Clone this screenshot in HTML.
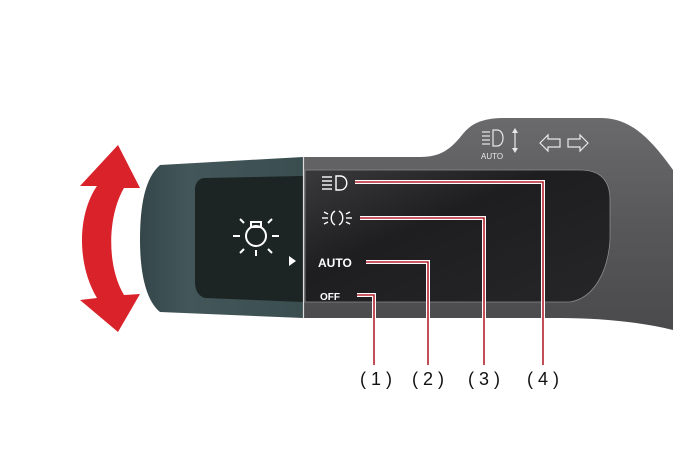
<!DOCTYPE html>
<html><head><style>
html,body{margin:0;padding:0;background:#fff;}
svg{display:block;}
text{font-family:"Liberation Sans",sans-serif;}
</style></head><body>
<svg width="673" height="472" viewBox="0 0 673 472" xmlns="http://www.w3.org/2000/svg">
<defs>
<linearGradient id="body" x1="0" y1="0" x2="0" y2="1">
<stop offset="0" stop-color="#6a6a6c"/><stop offset="0.5" stop-color="#58585a"/><stop offset="1" stop-color="#4a4a4c"/></linearGradient>
<linearGradient id="knob" x1="0" y1="0" x2="1" y2="0">
<stop offset="0" stop-color="#34464a"/><stop offset="0.3" stop-color="#43575a"/><stop offset="1" stop-color="#3a4e50"/></linearGradient>
<linearGradient id="panel" x1="0" y1="0" x2="1" y2="1">
<stop offset="0" stop-color="#3a3a3c"/><stop offset="0.4" stop-color="#1e1e20"/><stop offset="1" stop-color="#262628"/></linearGradient>
</defs>
<path d="M303,157 L420,157 C440,157 450,150 462,135 C472,122 485,118 505,118 L600,118 C625,118 645,130 673,170 L673,330 C640,322 600,318 560,318 L303,318 Z" fill="url(#body)"/>
<path d="M305,170 L580,170 C600,170 610,180 610,200 L610,240 C608,270 595,298 570,302 L305,302 Z" fill="url(#panel)" stroke="#8a8a8c" stroke-width="0.8"/>
<path d="M160,165 L303,157 L303,318 L160,312 C145,300 140,270 140,240 C140,205 145,178 160,165 Z" fill="url(#knob)"/>
<path d="M205,178 L303,176 L303,302 L205,298 C198,296 195,290 195,282 L195,190 C195,183 199,178 205,178 Z" fill="#1c2424"/>
<line x1="303.5" y1="157" x2="303.5" y2="318" stroke="#dcdcdc" stroke-width="1.2"/>
<g stroke="#fff" stroke-width="2" fill="none">
<circle cx="256" cy="236" r="10"/>
<rect x="251" y="222" width="10" height="5"/>
<line x1="233" y1="236" x2="240" y2="236"/><line x1="272" y1="236" x2="279" y2="236"/>
<line x1="240" y1="219" x2="244" y2="223"/><line x1="272" y1="219" x2="268" y2="223"/>
<line x1="240" y1="253" x2="244" y2="249"/><line x1="272" y1="253" x2="268" y2="249"/>
<line x1="256" y1="250" x2="256" y2="256"/>
</g>
<polygon points="289,256 296,261 289,266" fill="#fff"/>
<path d="M118,145 L140,188 L124,188 C108,215 106,265 124,295 L140,294 L118,332 L80,300 L97,298 C77,265 77,215 97,186 L80,186 Z" fill="#d9222a"/>
<g fill="#fff" font-weight="bold">
<text x="318" y="267" font-size="12">AUTO</text>
<text x="320" y="300" font-size="10">OFF</text>
</g>
<g stroke="#fff" stroke-width="1.4" fill="none">
<path d="M336,176 L340,176 C349,176 349,190 340,190 L336,190 Z"/>
<line x1="322" y1="177" x2="332" y2="177"/><line x1="322" y1="181" x2="332" y2="181"/><line x1="322" y1="185" x2="332" y2="185"/><line x1="322" y1="189" x2="332" y2="189"/>
<path d="M335,211 C330,214 330,222 335,225"/><path d="M339,211 C344,214 344,222 339,225"/>
<line x1="322" y1="218" x2="328" y2="218"/><line x1="346" y1="218" x2="352" y2="218"/>
<line x1="324" y1="212" x2="328" y2="214"/><line x1="324" y1="224" x2="328" y2="222"/>
<line x1="350" y1="212" x2="346" y2="214"/><line x1="350" y1="224" x2="346" y2="222"/>
</g>
<g stroke="#e8e8e8" stroke-width="1.2" fill="none">
<path d="M493,130 L497,130 C505,130 505,146 497,146 L493,146 Z"/>
<line x1="482" y1="132" x2="490" y2="132"/><line x1="482" y1="136" x2="490" y2="136"/><line x1="482" y1="140" x2="490" y2="140"/><line x1="482" y1="144" x2="490" y2="144"/>
<line x1="515" y1="131" x2="515" y2="150"/>
<path d="M540,143 L548,135 L548,139 L560,139 L560,147 L548,147 L548,151 Z"/>
<path d="M588,143 L580,135 L580,139 L568,139 L568,147 L580,147 L580,151 Z"/>
</g>
<polygon points="512,133 515,128 518,133" fill="#e8e8e8"/>
<polygon points="512,148 515,153 518,148" fill="#e8e8e8"/>
<text x="481" y="159" font-size="8" fill="#e8e8e8">AUTO</text>
<g fill="none">
<g stroke="#fff" stroke-width="4">
<path d="M355,182 L543,182 L543,365"/>
<path d="M360,218 L484,218 L484,365"/>
<path d="M366,262 L428,262 L428,365"/>
<path d="M357,295 L374,295 L374,365"/>
</g>
<g stroke="#b3222e" stroke-width="1.6">
<path d="M355,182 L543,182 L543,365"/>
<path d="M360,218 L484,218 L484,365"/>
<path d="M366,262 L428,262 L428,365"/>
<path d="M357,295 L374,295 L374,365"/>
</g>
</g>
<g font-size="18" fill="#111" text-anchor="middle">
<text x="376" y="385">( 1 )</text>
<text x="428" y="385">( 2 )</text>
<text x="484" y="385">( 3 )</text>
<text x="543" y="385">( 4 )</text>
</g>
</svg>
</body></html>
